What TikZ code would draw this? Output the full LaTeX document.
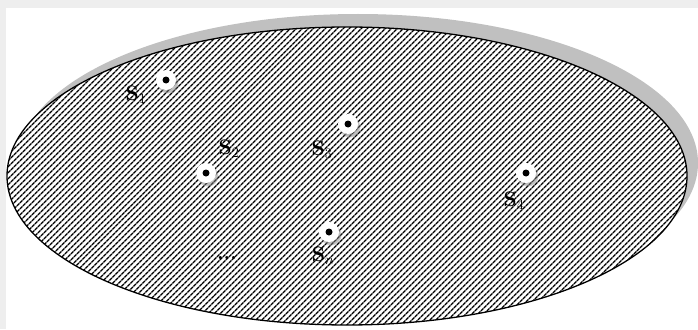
\documentclass[tikz,border=0pt]{standalone}
\usepackage{tikz}
\usetikzlibrary{patterns.meta, shadows}
\usepackage{xcolor}
\definecolor{fundo}{RGB}{238,238,238}
\definecolor{sombra}{RGB}{192,192,192}
\tikzset{
    regiao/.style={draw=black, line width=1.3pt, preaction={fill=white},
        pattern={Lines[angle=45, distance=4pt, line width=1.6pt]}},
    halo/.style={circle, fill=white, minimum size=20pt, inner sep=0pt,
        circular drop shadow={shadow xshift=1.5pt, shadow yshift=-2.5pt, opacity=0.5}},
    ponto/.style={circle, fill=black, minimum size=7pt, inner sep=0pt},
    rotulo/.style={font=\bfseries\fontsize{21}{24}\selectfont, inner sep=1pt}
}

\begin{document}
\begin{tikzpicture}[x=1pt, y=-1pt]
    \useasboundingbox (0,0) rectangle (698,329);
    \fill[fundo] (0,0) rectangle (698,329);
    \fill[white] (6,8) rectangle (698,329);
    % sombra e regiao
    \fill[sombra] (358,163) ellipse [x radius=340pt, y radius=149pt];
    \draw[regiao] (347,176) ellipse [x radius=340pt, y radius=149pt];
    % pontos
    \node[halo] (h1) at (166,80) {};  \node[ponto] (s1) at (h1) {};
    \node[halo] (h2) at (206,173) {}; \node[ponto] (s2) at (h2) {};
    \node[halo] (h3) at (348,124) {}; \node[ponto] (s3) at (h3) {};
    \node[halo] (h4) at (526,173) {}; \node[ponto] (s4) at (h4) {};
    \node[halo] (hn) at (329,232) {}; \node[ponto] (sn) at (hn) {};
    % rotulos
    \node[rotulo] (l1) at (136,95) {S$_1$};
    \node[rotulo] (l2) at (229,149) {S$_2$};
    \node[rotulo] (l3) at (322,150) {S$_3$};
    \node[rotulo] (l4) at (514,201) {S$_4$};
    \node[rotulo] (ln) at (323,256) {S$_n$};
    \node[rotulo] (etc) at (227,258) {...};
\end{tikzpicture}
\end{document}
